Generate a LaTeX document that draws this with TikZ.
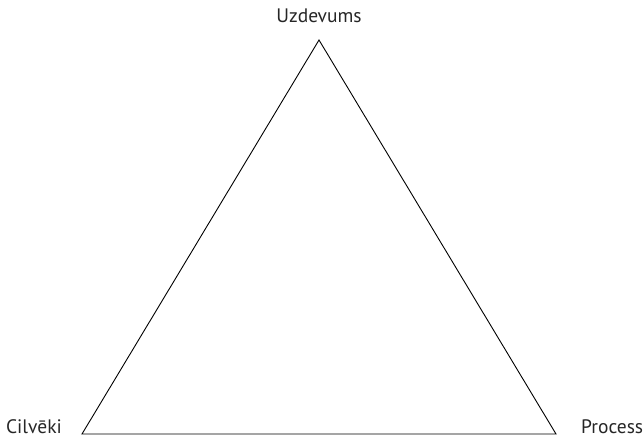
\documentclass[tikz,border=0pt]{standalone}
\usepackage{fontspec}
\setmainfont{PT Sans}
\usetikzlibrary{positioning}

\begin{document}
\begin{tikzpicture}[
    x=1pt,
    y=-1pt,
    corner/.style={
        inner sep=0pt,
        font=\fontsize{19.5}{23}\selectfont,
        text=black!85
    },
    edge/.style={draw, line width=0.9pt}
]

\useasboundingbox (0,0) rectangle (644,438);

\coordinate (top) at (319,40);
\coordinate (left) at (82,434);
\coordinate (right) at (556,434);

\node[corner, anchor=base] (task) at (319,23) {Uzdevums};
\node[corner, anchor=base east] (people) at (62,433) {Cilvēki};
\node[corner, anchor=base west] (process) at (581,433) {Process};

\draw[edge] (top) -- (right) -- (left) -- cycle;

\end{tikzpicture}
\end{document}
